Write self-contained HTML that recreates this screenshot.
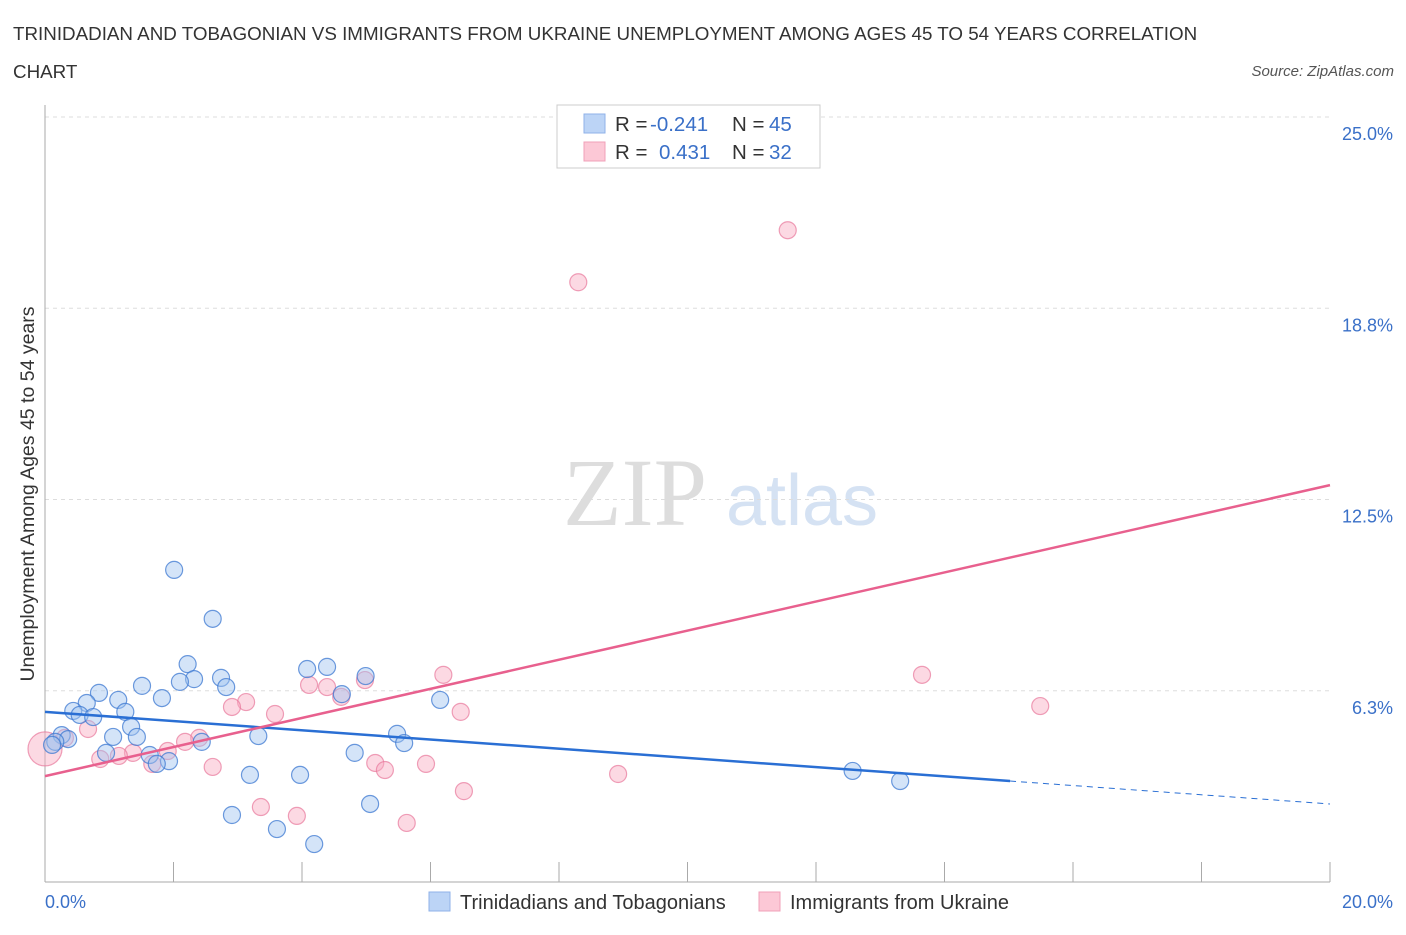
<!DOCTYPE html>
<html><head><meta charset="utf-8"><style>
body{margin:0;background:#fff;font-family:"Liberation Sans",sans-serif;}
</style></head><body>
<svg width="1406" height="930" xmlns="http://www.w3.org/2000/svg" style="font-family:'Liberation Sans',sans-serif">
<text x="13" y="40" font-size="18.8" fill="#333">TRINIDADIAN AND TOBAGONIAN VS IMMIGRANTS FROM UKRAINE UNEMPLOYMENT AMONG AGES 45 TO 54 YEARS CORRELATION</text>
<text x="13" y="78" font-size="18.8" fill="#333">CHART</text>
<text x="1394" y="76" font-size="15" fill="#555" font-style="italic" text-anchor="end">Source: ZipAtlas.com</text>
<g>
<text x="635" y="525" font-size="96" fill="#ddd" font-family="Liberation Serif" text-anchor="middle">ZIP</text>
<text x="802" y="525" font-size="72" fill="#d5e2f3" text-anchor="middle">atlas</text>
</g>
<g id="grid"></g>
<line x1="45" y1="105" x2="45" y2="882" stroke="#aaa"/>
<line x1="45" y1="882" x2="1330" y2="882" stroke="#aaa"/>
<g id="xticks"></g>
<g id="ylabels"></g>
<text x="45" y="908" font-size="18" fill="#3a70c8" text-anchor="start">0.0%</text>
<text x="1393" y="908" font-size="18" fill="#3a70c8" text-anchor="end">20.0%</text>
<text transform="translate(34,494) rotate(-90)" font-size="19.5" fill="#333" text-anchor="middle">Unemployment Among Ages 45 to 54 years</text>
<g id="pts"></g>
<g id="lines"></g>
<g>
<rect x="557" y="105" width="263" height="63" fill="#fff" stroke="#ccc"/>
<rect x="584" y="114" width="21" height="19" fill="#bcd4f6" stroke="#8fb2e8"/>
<rect x="584" y="142" width="21" height="19" fill="#fcc8d6" stroke="#f0a0b8"/>
<text x="615" y="131" font-size="20.5" fill="#333">R = <tspan x="650" fill="#3a70c8">-0.241</tspan><tspan x="732">N = </tspan><tspan x="769" fill="#3a70c8">45</tspan></text>
<text x="615" y="159" font-size="20.5" fill="#333">R = <tspan x="659" fill="#3a70c8">0.431</tspan><tspan x="732">N = </tspan><tspan x="769" fill="#3a70c8">32</tspan></text>
</g>
<g>
<rect x="429" y="892" width="21" height="19" fill="#bcd4f6" stroke="#8fb2e8"/>
<text x="460" y="909" font-size="20" fill="#333">Trinidadians and Tobagonians</text>
<rect x="759" y="892" width="21" height="19" fill="#fcc8d6" stroke="#f0a0b8"/>
<text x="790" y="909" font-size="20" fill="#333">Immigrants from Ukraine</text>
</g>
</svg>
<script>
const yTicks=[6.25,12.5,18.75,25];
const yTickLabels=["6.3%","12.5%","18.8%","25.0%"];
const xTickVals=[0,2,4,6,8,10,12,14,16,18,20];
const blueXs=[2.01,2.61,2.22,2.74,2.32,2.1,2.82,0.84,1.51,1.14,1.82,0.65,0.44,1.25,0.54,0.75,1.34,1.06,1.43,0.26,0.36,0.16,0.11,2.44,3.32,0.95,1.63,1.93,1.74,4.08,4.39,4.99,4.62,6.15,5.48,5.59,4.82,3.19,3.97,2.91,3.61,4.19,5.06,12.57,13.31];
const blueYs=[10.2,8.6,7.12,6.67,6.63,6.54,6.37,6.18,6.41,5.95,6.01,5.85,5.59,5.56,5.46,5.39,5.07,4.74,4.74,4.8,4.67,4.58,4.48,4.58,4.77,4.22,4.15,3.95,3.86,6.96,7.03,6.73,6.14,5.95,4.84,4.54,4.22,3.5,3.5,2.19,1.73,1.24,2.55,3.63,3.3];
const pinkXs=[11.56,8.3,13.65,6.2,15.49,6.47,4.11,4.39,4.61,4.98,3.13,2.91,3.58,0.67,0.31,0,2.4,2.18,1.91,1.37,1.15,0.86,1.67,2.61,5.14,5.29,5.93,8.92,6.52,3.36,3.92,5.63];
const pinkYs=[21.3,19.6,6.77,6.77,5.75,5.56,6.44,6.37,6.05,6.6,5.88,5.72,5.49,5.0,4.71,4.35,4.71,4.58,4.28,4.22,4.12,4.02,3.86,3.76,3.89,3.66,3.86,3.53,2.97,2.45,2.16,1.93];
const blueTrend=[5.56,2.55], blueSolidEnd=15.02;
const pinkTrend=[3.46,12.97];
const NS='http://www.w3.org/2000/svg';
const X=v=>45+v*64.25, Y=v=>882-v*30.6;
function mk(t,a,p){const e=document.createElementNS(NS,t);for(const k in a)e.setAttribute(k,a[k]);document.getElementById(p).appendChild(e);return e;}
yTicks.forEach((v,i)=>{
 const l=mk('line',{x1:45,x2:1330,y1:Y(v),y2:Y(v),stroke:'#ddd','stroke-dasharray':'4,4'},'grid');
 
 
 const t=mk('text',{x:1393,y:Y(v)+23,'font-size':18,fill:'#3a70c8','text-anchor':'end'},'ylabels');
 t.textContent=yTickLabels[i];
 
 
});
xTickVals.forEach(v=>{
 const l=mk('line',{x1:X(v),x2:X(v),y1:862,y2:882,stroke:'#aaa'},'xticks');
 
 
});
pinkXs.forEach((x,i)=>{
 const c=mk('circle',{cx:X(x),cy:Y(pinkYs[i]),r:i==15?17:8.5,fill:'rgba(248,170,192,0.45)',stroke:'rgba(232,120,155,0.7)','stroke-width':1.2},'pts');
 
 
});
blueXs.forEach((x,i)=>{
 const c=mk('circle',{cx:X(x),cy:Y(blueYs[i]),r:8.5,fill:'rgba(160,195,240,0.45)',stroke:'rgba(60,120,210,0.75)','stroke-width':1.2},'pts');
 
 
});
const by=x=>blueTrend[0]+(blueTrend[1]-blueTrend[0])*x/20;
let l=mk('line',{x1:X(0),y1:Y(by(0)),x2:X(blueSolidEnd),y2:Y(by(blueSolidEnd)),stroke:'#2a6fd4','stroke-width':2.5},'lines');


l=mk('line',{x1:X(blueSolidEnd),y1:Y(by(blueSolidEnd)),x2:X(20),y2:Y(by(20)),stroke:'#2a6fd4','stroke-width':1,'stroke-dasharray':'6,5'},'lines');


l=mk('line',{x1:X(0),y1:Y(pinkTrend[0]),x2:X(20),y2:Y(pinkTrend[1]),stroke:'#e8608e','stroke-width':2.5},'lines');


</script>
</body></html>
